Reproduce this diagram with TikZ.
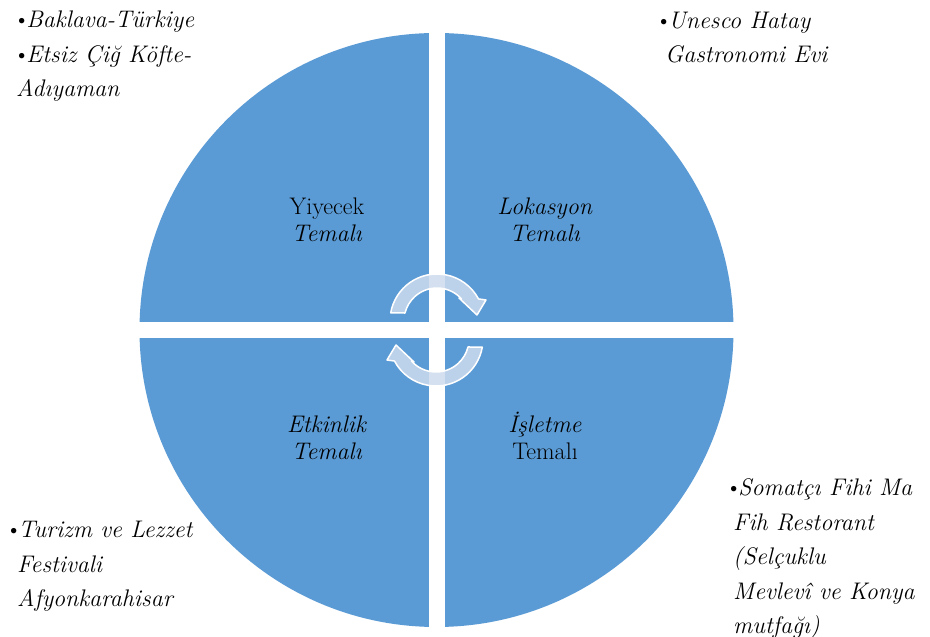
\documentclass[tikz,border=0pt]{standalone}
\usepackage{fontspec}
\usepackage{tikz}
\usetikzlibrary{calc}
\definecolor{quadblue}{RGB}{91,155,213}
\definecolor{arrowfill}{RGB}{205,219,238}
\newcommand{\dotitem}{{\upshape\textbullet}\kern-4pt}

\begin{document}
\begin{tikzpicture}[x=1pt,y=1pt,
  theme/.style={align=center,anchor=base,inner sep=0pt,font=\fontsize{24}{27}\selectfont},
  note/.style={align=left,anchor=base west,inner sep=0pt,font=\fontsize{24}{34.5}\selectfont\itshape},
  turn/.style={fill=arrowfill,fill opacity=0.85,draw=white,line width=1.5pt,line join=round}]
	\fill[white] (0,0) rectangle (930,637);
	\useasboundingbox (0,0) rectangle (930,637);
	\coordinate (ctr) at (436.5,307);
	
	% disc cut in four by a white cross
	\fill[quadblue] (ctr) circle (297);
	\fill[white] ($(ctr)+(-8,-300)$) rectangle ($(ctr)+(8,300)$);
	\fill[white] ($(ctr)+(-300,-8)$) rectangle ($(ctr)+(300,8)$);
	
	% the two turning arrows
	\foreach \r in {0,180}{
		\begin{scope}[rotate around={\r:(ctr)},shift={(437,316)}]
			\draw[turn] (170:47) arc[start angle=170,end angle=28,radius=47]
			-- (49,21) -- (40,6) -- (22,23) -- (42:33)
			arc[start angle=42,end angle=166,radius=33] -- cycle;
		\end{scope}
	}
	
	% last line sits on the given point
	\node[theme] (food)  at (327,395) {Yiyecek\\\textit{Temalı}};
	\node[theme] (place) at (545,395) {\textit{Lokasyon}\\\textit{Temalı}};
	\node[theme] (event) at (327,177) {\textit{Etkinlik}\\\textit{Temalı}};
	\node[theme] (firm)  at (545,177) {\textit{İşletme}\\Temalı};
	
	\node[note] (foodex)  at (13,540) {\dotitem Baklava-Türkiye\\\dotitem Etsiz Çiğ Köfte-\\\hspace*{3pt}Adıyaman};
	\node[note] (placeex) at (655,574) {\dotitem Unesco Hatay\\\hspace*{10pt}Gastronomi Evi};
	\node[note] (eventex) at (5,30) {\dotitem Turizm ve Lezzet\\\hspace*{12pt}Festivali\\\hspace*{12pt}Afyonkarahisar};
	\node[note] (firmex)  at (725,3) {\dotitem Somatçı Fihi Ma\\\hspace*{8pt}Fih Restorant\\\hspace*{8pt}(Selçuklu\\\hspace*{8pt}Mevlevî ve Konya\\\hspace*{8pt}mutfağı)};
\end{tikzpicture}
\end{document}
